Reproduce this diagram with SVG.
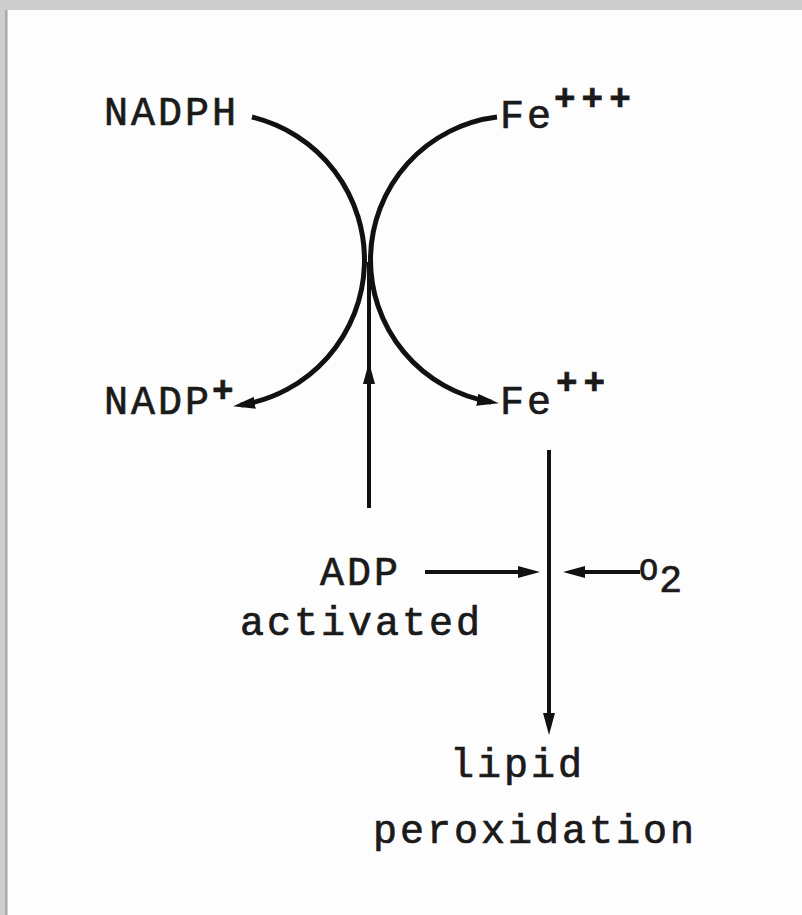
<svg xmlns="http://www.w3.org/2000/svg" width="802" height="915" viewBox="0 0 802 915">
<style>
.t{font-family:"Liberation Mono","DejaVu Sans Mono",monospace;font-size:40px;fill:#1a1a1a;stroke:#1a1a1a;stroke-width:0.7;letter-spacing:3px}
.sup{font-size:36px;font-weight:bold;letter-spacing:6px}
.c{fill:none;stroke:#111;stroke-width:5}
.l{fill:none;stroke:#111;stroke-width:4}
</style>
<defs>
<marker id="ah" viewBox="0 0 22 12" refX="14" refY="6" markerWidth="22" markerHeight="12" markerUnits="userSpaceOnUse" orient="auto">
<path d="M0,0 L22,6 L0,12 z" fill="#111"/>
</marker>
</defs>
<rect x="0" y="0" width="802" height="915" fill="#cdcdcd"/>
<rect x="8" y="10" width="794" height="905" fill="#fdfdfd"/>
<line x1="6" y1="10" x2="6" y2="915" stroke="#8a8a8a" stroke-width="1"/>
<g id="connectors">
<path class="c" d="M252,117 A147,147 0 0 1 241,405" marker-end="url(#ah)"/>
<path class="c" d="M497,117 A144,144 0 0 0 491,402" marker-end="url(#ah)"/>
<line class="l" x1="369" y1="378" x2="369" y2="262"/>
<path class="l" d="M369,508 L369,370" marker-end="url(#ah)"/>
<path class="l" d="M549,450 L549,727" marker-end="url(#ah)"/>
<path class="l" d="M425,572 L532,572" marker-end="url(#ah)"/>
<path class="l" d="M640,572 L571,572" marker-end="url(#ah)"/>
</g>
<g id="nadph"><text class="t" x="104" y="125">NADPH</text></g>
<g id="fe3"><text class="t" x="500" y="128">Fe<tspan class="sup" dx="0" dy="-18">+++</tspan></text></g>
<g id="nadp"><text class="t" x="104" y="414">NADP<tspan class="sup" dx="0" dy="-12">+</tspan></text></g>
<g id="fe2"><text class="t" x="500" y="414">Fe<tspan class="sup" dx="2" dy="-20">++</tspan></text></g>
<g id="adp"><text class="t" x="320" y="585">ADP</text><text class="t" x="240" y="635">activated</text></g>
<g id="o2"><text class="t" x="639" y="580" style="font-size:32px">O<tspan dx="-2" dy="12" style="font-size:38px">2</tspan></text></g>
<g id="lipid"><text class="t" x="450" y="777">lipid</text><text class="t" x="373" y="843">peroxidation</text></g>
</svg>
